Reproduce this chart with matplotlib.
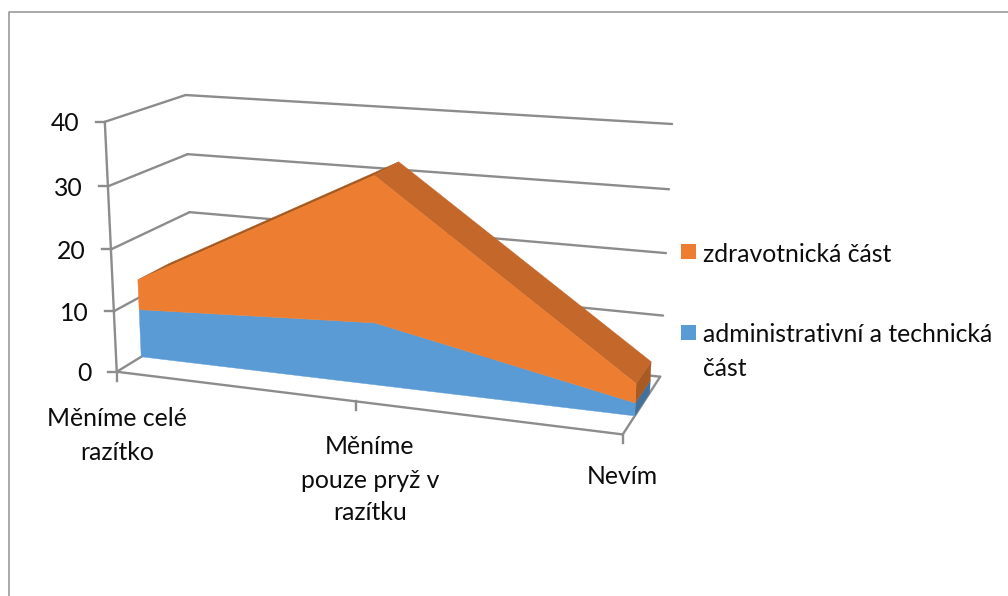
import numpy as np
from matplotlib import pyplot as plt

categories = ['Měníme celé\nrazítko', 'Měníme\npouze pryž v\nrazítku', 'Nevím']
admin_values = np.array([8, 10, 2])
health_values = np.array([5, 23, 3])
series_names = ['zdravotnická část', 'administrativní a technická\nčást']
y_ticks = [0, 10, 20, 30, 40]

ORANGE = '#ED7D31'
BLUE = '#5B9BD5'
GRID = '#8C8C8C'
TEXT = '#0D0D0D'
FONT_SIZE = 17.8
Z_FRONT = 0.3
Z_BACK = 0.7

# box corners (category, value, depth) and where they land on the canvas
BOX_POINTS = [
    (0, 0, 0, 117, 372), (0, 10, 0, 114, 311), (0, 20, 0, 111, 249),
    (0, 30, 0, 107, 187), (0, 40, 0, 105, 122), (1, 0, 0, 623, 434),
    (0, 20, 1, 189, 212), (0, 30, 1, 188, 154), (0, 40, 1, 186, 95),
    (1, 0, 1, 660, 377), (1, 10, 1, 663, 316), (1, 20, 1, 666, 253),
    (1, 30, 1, 669, 189), (1, 40, 1, 672, 124),
]


def fit_camera(points):
    rows = []
    rhs = []
    for x, y, z, u, v in points:
        rows.append([x, y, z, 1, 0, 0, 0, 0, -u * x, -u * y, -u * z])
        rows.append([0, 0, 0, 0, x, y, z, 1, -v * x, -v * y, -v * z])
        rhs += [u, v]
    sol = np.linalg.lstsq(np.array(rows, float), np.array(rhs, float), rcond=None)[0]
    return np.append(sol, 1).reshape(3, 4)


CAMERA = fit_camera(BOX_POINTS)


def project(x, y, z):
    x, y, z = np.broadcast_arrays(x, y, z)
    pts = np.stack([x, y, z, np.ones_like(x)], axis=0).astype(float)
    u, v, w = CAMERA @ pts
    return u / w, v / w


def line3d(ax, p, q):
    u, v = project(np.array([p[0], q[0]]), np.array([p[1], q[1]]), np.array([p[2], q[2]]))
    ax.plot(u, v, color=GRID, lw=1.7, solid_capstyle='round')


def face(ax, x, y, z, color, zorder):
    u, v = project(np.array(x), np.array(y), np.array(z))
    ax.fill(u, v, color=color, lw=0.3, zorder=zorder)


plt.rcParams['font.family'] = ['Lato', 'DejaVu Sans']
fig = plt.figure(figsize=(10.08, 5.96), dpi=100)
ax = fig.add_axes([0, 0, 1, 1])
ax.set_xlim(0, 1008)
ax.set_ylim(596, 0)
ax.axis('off')

# chart frame, only left and top fall inside the canvas
ax.plot([8.5, 8.5, 1008], [596, 11.5, 11.5], color='#9A9A9A', lw=1.2)

# walls and floor
for val in y_ticks:
    line3d(ax, (0, val, 0), (0, val, 1))
    line3d(ax, (0, val, 1), (1, val, 1))
    u, v = project(0, val, 0)
    ax.plot([u - 9, u], [v, v], color=GRID, lw=1.7)
    ax.text(u - 25, v + 2, str(val), ha='right', va='center', fontsize=FONT_SIZE, color=TEXT)
line3d(ax, (0, 0, 0), (0, 40, 0))
line3d(ax, (0, 0, 0), (1, 0, 0))
line3d(ax, (1, 0, 0), (1, 0, 1))

cat_x = np.linspace(0, 1, len(categories))
label_y = [419, 447, 476]
label_shift = [0, 14, 0]
for xc, name, ly, shift in zip(cat_x, categories, label_y, label_shift):
    u, v = project(xc, 0, 0)
    ax.plot([u, u], [v, v + 9], color=GRID, lw=1.7)
    for i, part in enumerate(name.split('\n')):
        ax.text(u + shift, ly + i * 33, part, ha='center', va='center',
                fontsize=FONT_SIZE, color=TEXT)

total = admin_values + health_values
zero = np.zeros(len(cat_x))

# end cap on the right
face(ax, [1, 1, 1, 1], [0, admin_values[-1], admin_values[-1], 0],
     [Z_FRONT, Z_FRONT, Z_BACK, Z_BACK], '#41719C', 3)
face(ax, [1, 1, 1, 1], [admin_values[-1], total[-1], total[-1], admin_values[-1]],
     [Z_FRONT, Z_FRONT, Z_BACK, Z_BACK], '#A85A22', 3)

# sloped top surfaces
for i in range(len(cat_x) - 1):
    rising = total[i + 1] > total[i]
    face(ax, [cat_x[i], cat_x[i + 1], cat_x[i + 1], cat_x[i]],
         [total[i], total[i + 1], total[i + 1], total[i]],
         [Z_FRONT, Z_FRONT, Z_BACK, Z_BACK], '#A5591F' if rising else '#C4672A', 4)

# front faces of the stacked areas
face(ax, list(cat_x) + list(cat_x[::-1]), list(zero) + list(admin_values[::-1]),
     [Z_FRONT] * 6, BLUE, 5)
face(ax, list(cat_x) + list(cat_x[::-1]), list(admin_values) + list(total[::-1]),
     [Z_FRONT] * 6, ORANGE, 5)

# legend
swatches = [(681, 244, ORANGE), (681, 325, BLUE)]
for (sx, sy, col), name in zip(swatches, series_names):
    ax.fill([sx, sx + 14.5, sx + 14.5, sx], [sy, sy, sy + 15, sy + 15], color=col, lw=0)
    for i, part in enumerate(name.split('\n')):
        ax.text(703, sy + 10 + i * 33, part, ha='left', va='center', fontsize=FONT_SIZE, color=TEXT)

fig.savefig('out.png', dpi=100)
